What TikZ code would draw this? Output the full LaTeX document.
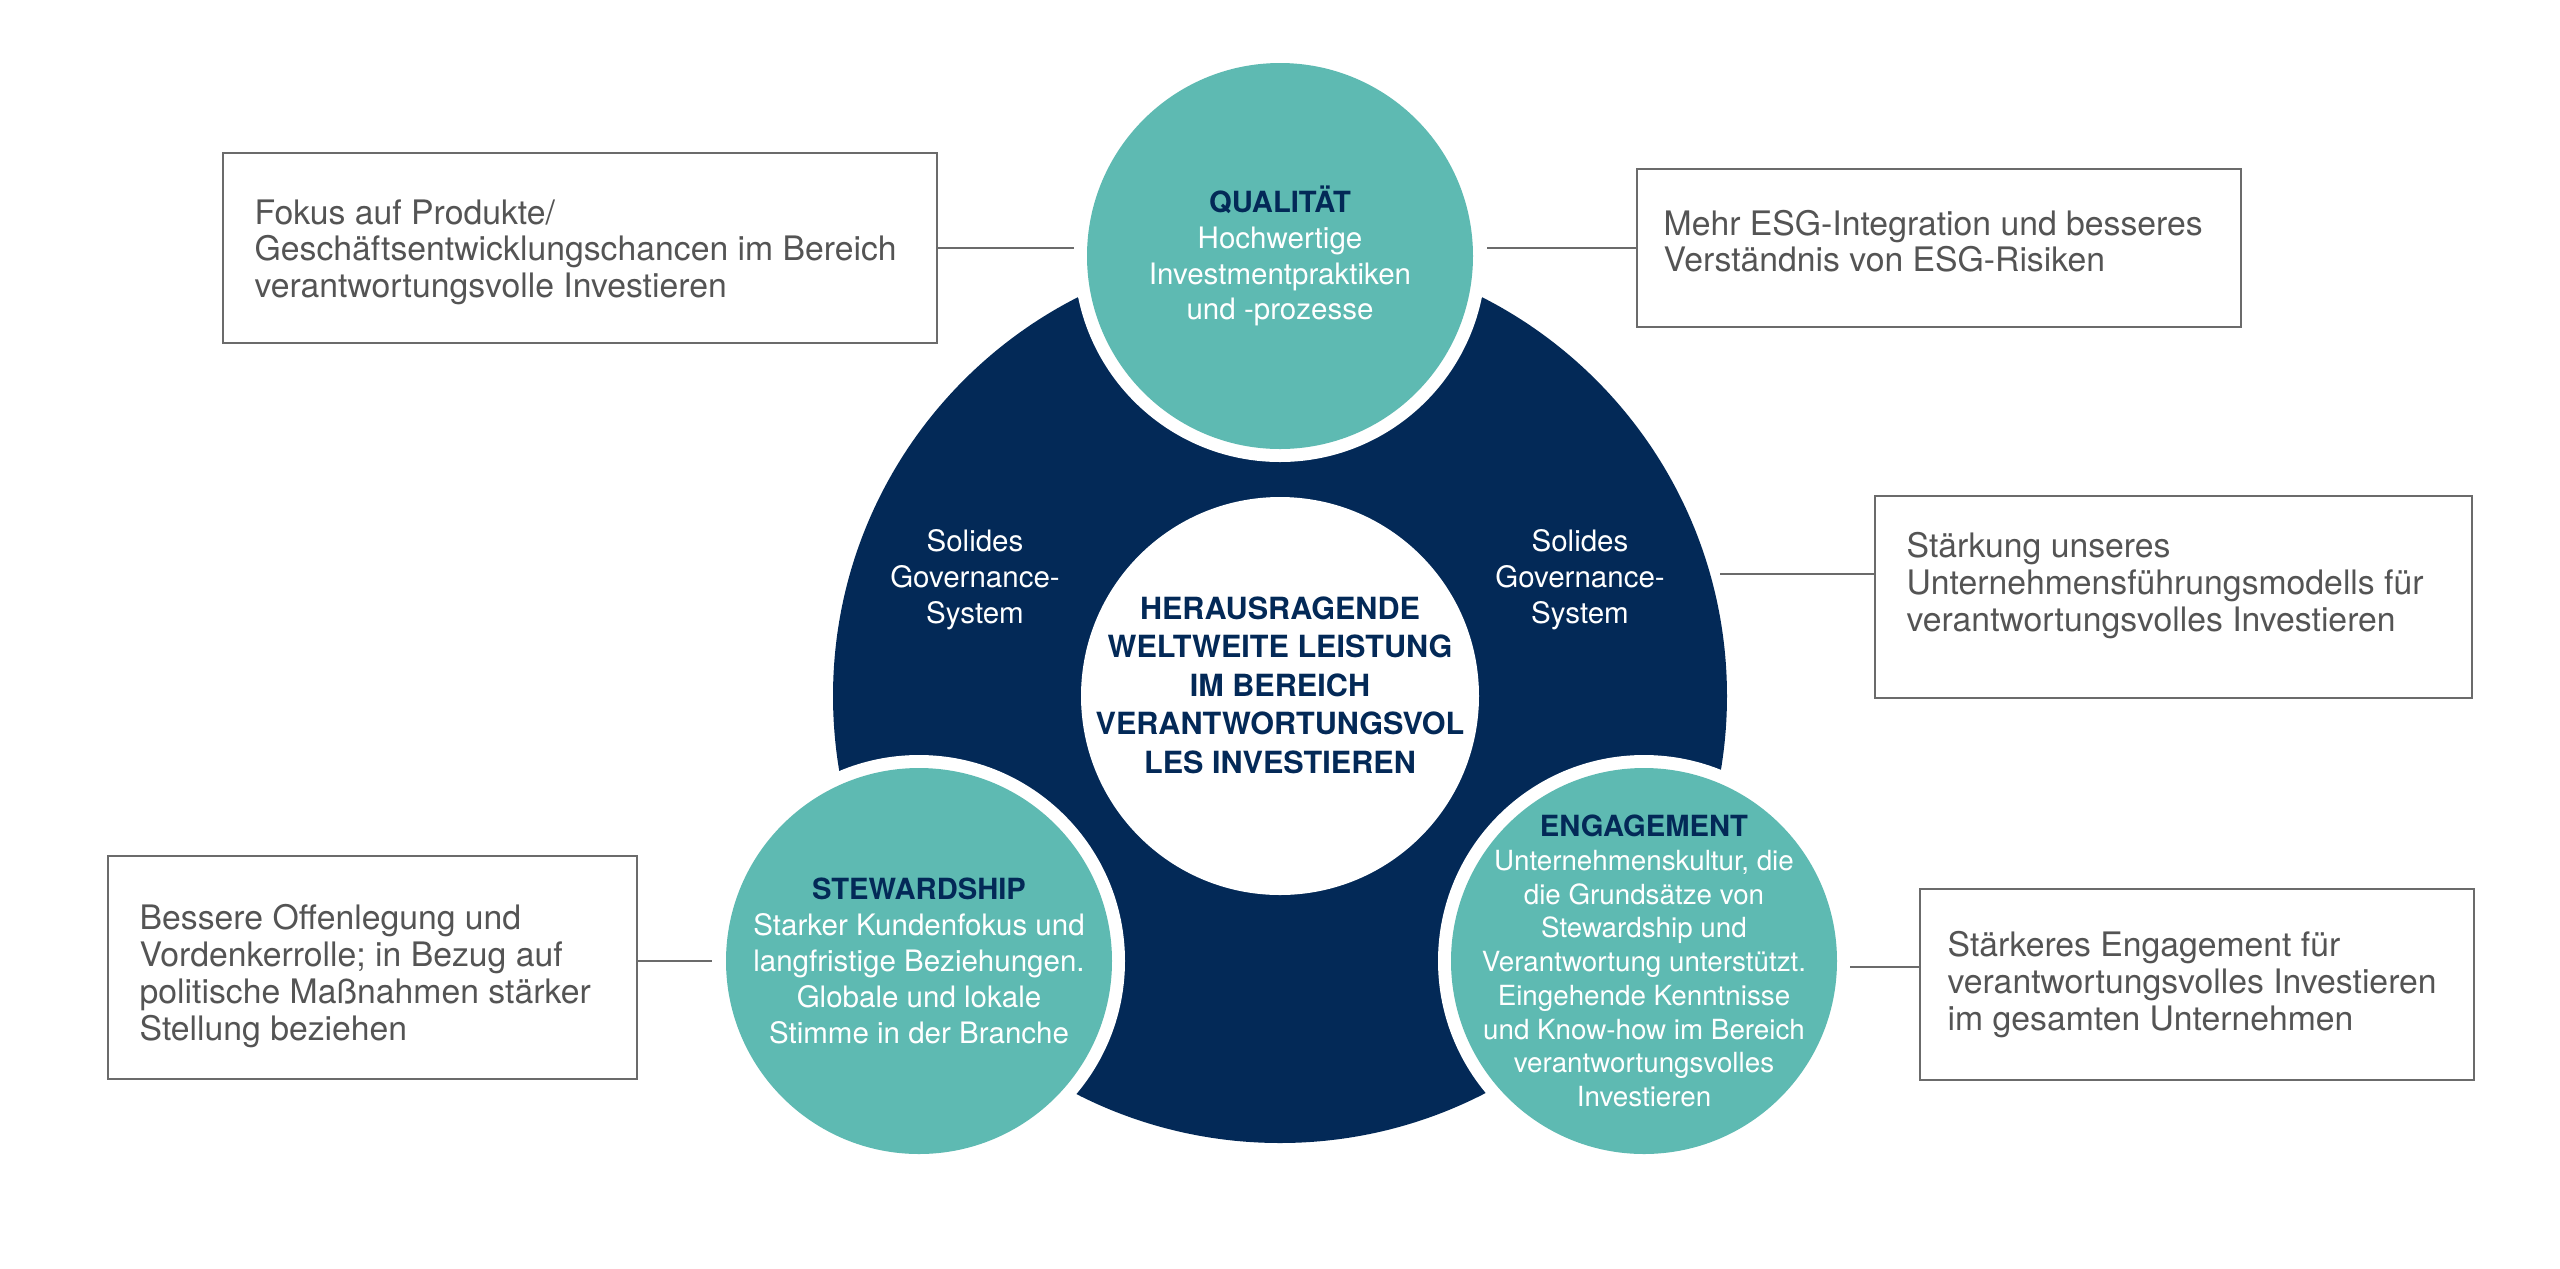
\documentclass[tikz,border=0pt]{standalone}
\usepackage{fontspec}
\setmainfont{TeX Gyre Heros}
\usetikzlibrary{calc,positioning}

\definecolor{navy}{rgb}{0.01,0.16,0.34}
\definecolor{tealc}{rgb}{0.37,0.73,0.70}
\definecolor{boxgray}{rgb}{0.42,0.42,0.42}
\definecolor{txtgray}{rgb}{0.33,0.33,0.33}

\def\boxfont{\fontsize{9.6}{10.5}\selectfont}
\def\circfont{\fontsize{8.4}{10.2}\selectfont}
\def\smallcircfont{\fontsize{7.9}{9.6}\selectfont}
\def\headfont{\fontsize{8.3}{10.2}\bfseries\selectfont}
\def\midfont{\fontsize{8.7}{10.95}\bfseries\selectfont}

\begin{document}
\begin{tikzpicture}[x=0.1mm,y=-0.1mm,
  feld/.style={draw=boxgray, line width=0.7pt, inner sep=0pt, anchor=north west},
  feldtext/.style={text=txtgray, align=left, inner sep=0pt, anchor=west, font=\boxfont},
  tealcirc/.style={circle, fill=tealc, minimum size=38.6mm, inner sep=0pt, align=center, text=white, font=\circfont},
  midcirc/.style={circle, fill=white, minimum size=39.8mm, inner sep=0pt},
  midtext/.style={align=center, text=navy, font=\midfont},
  govtext/.style={align=center, text=white, font=\circfont},
  conn/.style={draw=boxgray, line width=0.7pt}]

    \useasboundingbox (0,0) rectangle (2560,1268);

    \coordinate (cq) at (1280,256);
    \coordinate (cs) at (919,961);
    \coordinate (ce) at (1644,961);

    % ring
    \fill[navy] (1280,696) circle (44.7mm);
    \foreach \c in {cq,cs,ce}{
      \fill[white] (\c) circle (20.6mm);
    }

    \node[tealcirc] (qual) at (cq) {\textcolor{navy}{\headfont QUALITÄT}\\Hochwertige\\Investmentpraktiken\\und -prozesse};
    \node[tealcirc] (stew) at (cs) {\textcolor{navy}{\headfont STEWARDSHIP}\\Starker Kundenfokus und\\langfristige Beziehungen.\\Globale und lokale\\Stimme in der Branche};
    \node[tealcirc, font=\smallcircfont, inner sep=-3mm] (eng) at (ce) {\textcolor{navy}{\headfont ENGAGEMENT}\\Unternehmenskultur, die\\die Grundsätze von\\Stewardship und\\Verantwortung unterstützt.\\Eingehende Kenntnisse\\und Know-how im Bereich\\verantwortungsvolles\\Investieren};

    \node[midcirc] (mid) at (1280,696) {};
    \node[midtext] (midt) at (1280,685) {HERAUSRAGENDE\\WELTWEITE LEISTUNG\\IM BEREICH\\VERANTWORTUNGSVOL\\LES INVESTIEREN};

    \node[govtext] (gov1) at (975,580) {Solides\\Governance-\\System};
    \node[govtext] (gov2) at (1580,580) {Solides\\Governance-\\System};

    % boxes
    \node[feld, minimum width=71.4mm, minimum height=19mm] (f1) at (222,152) {};
    \node[feld, minimum width=60.4mm, minimum height=15.8mm] (f2) at (1636,168) {};
    \node[feld, minimum width=59.7mm, minimum height=20.2mm] (f3) at (1874,495) {};
    \node[feld, minimum width=52.9mm, minimum height=22.3mm] (f4) at (107,855) {};
    \node[feld, minimum width=55.4mm, minimum height=19.1mm] (f5) at (1919,888) {};

    \node[feldtext, right=3.2mm of f1.west, yshift=-0.4mm] (t1) {Fokus auf Produkte/\\Geschäftsentwicklungschancen im Bereich\\verantwortungsvolle Investieren};
    \node[feldtext, right=2.7mm of f2.west, yshift=0.7mm] (t2) {Mehr ESG-Integration und besseres\\Verständnis von ESG-Risiken};
    \node[feldtext, right=3.2mm of f3.west, yshift=1.2mm] (t3) {Stärkung unseres\\Unternehmensführungsmodells für\\verantwortungsvolles Investieren};
    \node[feldtext, right=3.2mm of f4.west, yshift=-0.8mm] (t4) {Bessere Offenlegung und\\Vordenkerrolle; in Bezug auf\\politische Maßnahmen stärker\\Stellung beziehen};
    \node[feldtext, right=2.8mm of f5.west] (t5) {Stärkeres Engagement für\\verantwortungsvolles Investieren\\im gesamten Unternehmen};

    \coordinate (g3) at (1720,574);
    \coordinate (g5) at (1850,967);

    \draw[conn, shorten >=1.2mm] (f1.east) -- (f1.east -| qual.west);
    \draw[conn, shorten >=1.3mm] (f2.west) -- (f2.west -| qual.east);
    \draw[conn] (g3) -- (g3 -| f3.west);
    \draw[conn, shorten >=1.3mm] (stew.west -| f4.east) -- (stew.west);
    \draw[conn] (g5) -- (g5 -| f5.west);

\end{tikzpicture}
\end{document}
